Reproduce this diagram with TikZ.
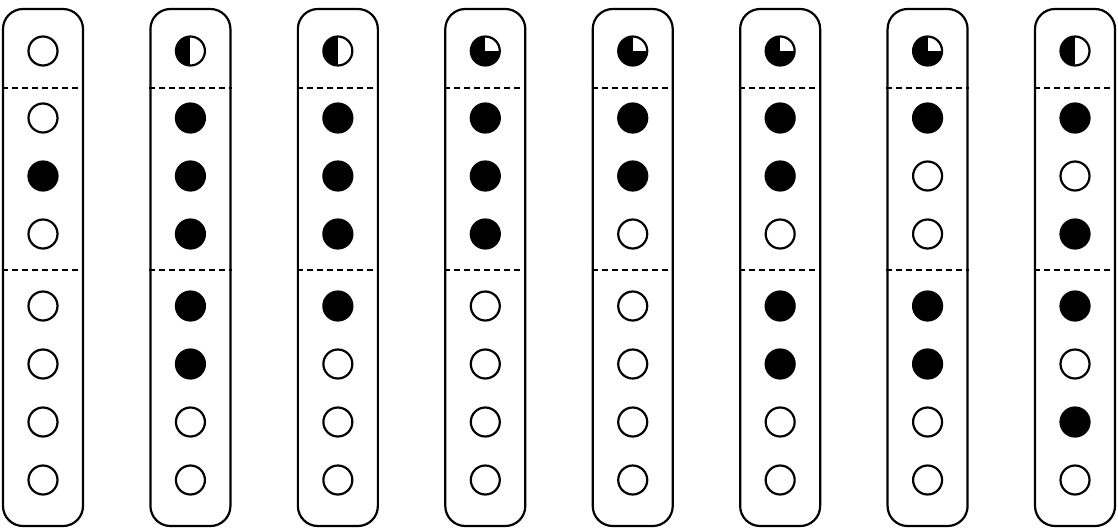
\documentclass[tikz,border=0pt]{standalone}
\begin{document}
\begin{tikzpicture}[x=1pt,y=-1pt,
  strip/.style={draw, line width=2.2pt, rounded corners=20pt, minimum width=80pt, minimum height=517pt, inner sep=0pt},
  dot/.style={circle, draw, line width=2.2pt, minimum size=29pt, inner sep=0pt},
  full/.style={dot, fill=black},
  half/.style={dot, path picture={\fill[black] (path picture bounding box.south west) rectangle (path picture bounding box.north);}},
  quarter/.style={dot, fill=black, path picture={\fill[white] (path picture bounding box.center) rectangle (path picture bounding box.north east);}},
  sep/.style={line width=2pt, dash pattern=on 6pt off 4pt}]
\useasboundingbox (0,0) rectangle (1118,528);
\foreach \i/\ta/\ra/\rb/\rc/\rd/\re/\rf/\rg in {
  1/dot/dot/full/dot/dot/dot/dot/dot,
  2/half/full/full/full/full/full/dot/dot,
  3/half/full/full/full/full/dot/dot/dot,
  4/quarter/full/full/full/dot/dot/dot/dot,
  5/quarter/full/full/dot/dot/dot/dot/dot,
  6/quarter/full/full/dot/full/full/dot/dot,
  7/quarter/full/dot/dot/full/full/dot/dot,
  8/half/full/dot/full/full/dot/full/dot}{
  \pgfmathsetmacro{\cx}{43+(\i-1)*147.43}
  \node[strip] (s\i) at (\cx,267.5) {};
  \node[\ta] (t\i) at (\cx,51) {};
  \node[\ra] (r\i-2) at (\cx,118) {};
  \node[\rb] (r\i-3) at (\cx,176) {};
  \node[\rc] (r\i-4) at (\cx,234) {};
  \node[\rd] (r\i-5) at (\cx,306) {};
  \node[\re] (r\i-6) at (\cx,364) {};
  \node[\rf] (r\i-7) at (\cx,422) {};
  \node[\rg] (r\i-8) at (\cx,480) {};
  \draw[sep] (s\i.west |- 0,87.5) -- (s\i.east |- 0,87.5);
  \draw[sep] (s\i.west |- 0,269.5) -- (s\i.east |- 0,269.5);
}
\end{tikzpicture}
\end{document}
